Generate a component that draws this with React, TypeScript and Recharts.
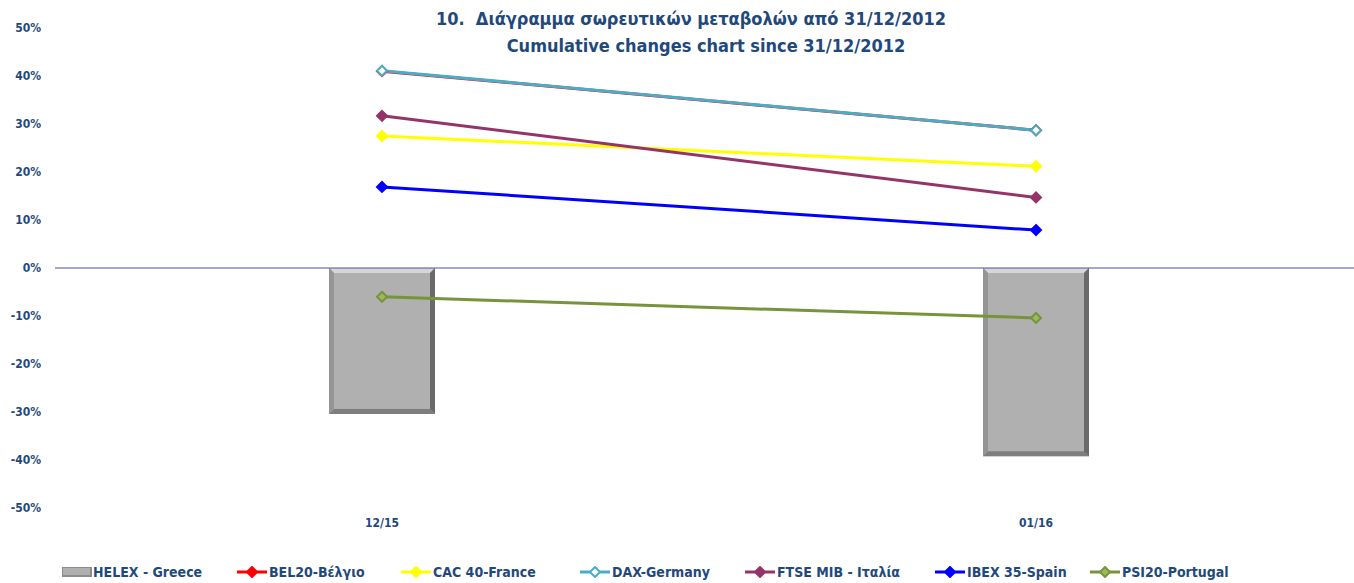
import React from 'react';
import {
  ComposedChart,
  Bar,
  Line,
  XAxis,
  YAxis,
  ReferenceLine,
} from 'recharts';

const categories = ['12/15', '01/16'];
const helex = [-30.4, -39.2];
const bel20 = [41.0, 28.7];
const cac40 = [27.5, 21.2];
const dax = [41.1, 28.7];
const ftseMib = [31.7, 14.7];
const ibex35 = [16.9, 7.9];
const psi20 = [-6.0, -10.4];
const yTicks = [-50, -40, -30, -20, -10, 0, 10, 20, 30, 40, 50];

const data = categories.map((cat, i) => ({
  cat,
  helex: helex[i],
  bel20: bel20[i],
  cac40: cac40[i],
  dax: dax[i],
  ftseMib: ftseMib[i],
  ibex35: ibex35[i],
  psi20: psi20[i],
}));

const TEXT = '#1F497D';
const FONT = '"Liberation Sans Narrow", "DejaVu Sans Condensed", "Liberation Sans", sans-serif';

const lines = [
  { key: 'bel20', name: 'BEL20-Βέλγιο', color: '#FF0000', fill: '#FF0000' },
  { key: 'cac40', name: 'CAC 40-France', color: '#FFFF00', fill: '#FFFF00' },
  { key: 'dax', name: 'DAX-Germany', color: '#4BACC6', fill: '#FFFFFF' },
  { key: 'ftseMib', name: 'FTSE MIB - Ιταλία', color: '#953468', fill: '#953468' },
  { key: 'ibex35', name: 'IBEX 35-Spain', color: '#0000FF', fill: '#0000FF' },
  { key: 'psi20', name: 'PSI20-Portugal', color: '#77933C', fill: '#9BBB59' },
];
// legend item left edges
const legendX = [62, 237, 401, 580, 745, 935, 1090];

function diamond(color: string, fill: string) {
  return (props: any) => {
    const { cx, cy, index } = props;
    if (cx == null || cy == null) return <g key={index} />;
    const r = 5;
    return (
      <polygon
        key={index}
        points={`${cx},${cy - r} ${cx + r},${cy} ${cx},${cy + r} ${cx - r},${cy}`}
        fill={fill}
        stroke={color}
        strokeWidth={2}
      />
    );
  };
}

function BevelBar(props: any) {
  const { x, y, width, height } = props;
  const top = Math.min(y, y + height);
  const h = Math.abs(height);
  const b = 5;
  return (
    <g>
      <rect x={x} y={top} width={width} height={h} fill="#9a9a9a" />
      <polygon points={`${x},${top} ${x + width},${top} ${x + width - b},${top + b} ${x + b},${top + b}`} fill="#d6d6d6" />
      <polygon points={`${x + width},${top} ${x + width},${top + h} ${x + width - b},${top + h - b} ${x + width - b},${top + b}`} fill="#6a6a6a" />
      <polygon points={`${x},${top + h} ${x + width},${top + h} ${x + width - b},${top + h - b} ${x + b},${top + h - b}`} fill="#7e7e7e" />
      <polygon points={`${x},${top} ${x + b},${top + b} ${x + b},${top + h - b} ${x},${top + h}`} fill="#959595" />
      <rect x={x + b} y={top + b} width={width - 2 * b} height={h - 2 * b} fill="#b0b0b0" />
    </g>
  );
}

function LegendIcon({ color, fill }: { color: string; fill: string }) {
  return (
    <svg width={30} height={12} style={{ marginRight: 2 }}>
      <line x1={0} y1={6} x2={30} y2={6} stroke={color} strokeWidth={3} />
      <polygon points="15,1 20,6 15,11 10,6" fill={fill} stroke={color} strokeWidth={2} />
    </svg>
  );
}

export default function App() {
  return (
    <div style={{ position: 'absolute', left: 0, top: 0, width: 1354, height: 583, background: '#fff', fontFamily: FONT, overflow: 'hidden' }}>
      <div style={{ position: 'absolute', top: 8, left: 691, transform: 'translateX(-50%)', whiteSpace: 'nowrap', color: TEXT, fontWeight: 'bold', fontSize: 18 }}>
        10.&nbsp; Διάγραμμα σωρευτικών μεταβολών από 31/12/2012
      </div>
      <div style={{ position: 'absolute', top: 35, left: 706, transform: 'translateX(-50%)', whiteSpace: 'nowrap', color: TEXT, fontWeight: 'bold', fontSize: 18 }}>
        Cumulative changes chart since 31/12/2012
      </div>
      <ComposedChart
        width={1354}
        height={583}
        data={data}
        margin={{ top: 28, right: -9, bottom: 45, left: 0 }}
        barSize={106}
      >
        <XAxis
          dataKey="cat"
          axisLine={false}
          tickLine={false}
          tickSize={0}
          tickMargin={10}
          height={30}
          tick={{ fill: TEXT, fontSize: 12, fontWeight: 'bold', fontFamily: FONT }}
        />
        <YAxis
          domain={[-50, 50]}
          ticks={yTicks}
          width={55}
          axisLine={false}
          tickLine={false}
          tickMargin={14}
          tickSize={0}
          tickFormatter={(v: number) => `${v}%`}
          tick={{ fill: TEXT, fontSize: 12, fontWeight: 'bold', fontFamily: FONT }}
        />
        <Bar dataKey="helex" name="HELEX - Greece" shape={<BevelBar />} isAnimationActive={false} />
        <ReferenceLine y={0} stroke="#4F4F9F" strokeWidth={1} />
        {lines.map((l) => (
          <Line
            key={l.key}
            dataKey={l.key}
            name={l.name}
            stroke={l.color}
            strokeWidth={3}
            dot={diamond(l.color, l.fill)}
            activeDot={false}
            isAnimationActive={false}
          />
        ))}
      </ComposedChart>
      <div style={{ position: 'absolute', top: 564, left: legendX[0], display: 'flex', alignItems: 'center', color: TEXT, fontWeight: 'bold', fontSize: 14, whiteSpace: 'nowrap' }}>
        <svg width={30} height={10} style={{ marginRight: 1 }}>
          <rect x={0} y={0} width={30} height={10} fill="#8c8c8c" />
          <rect x={1} y={1} width={27} height={7} fill="#b0b0b0" />
        </svg>
        HELEX - Greece
      </div>
      {lines.map((l, i) => (
        <div key={l.key} style={{ position: 'absolute', top: 564, left: legendX[i + 1], display: 'flex', alignItems: 'center', color: TEXT, fontWeight: 'bold', fontSize: 14, whiteSpace: 'nowrap' }}>
          <LegendIcon color={l.color} fill={l.fill} />
          {l.name}
        </div>
      ))}
    </div>
  );
}
